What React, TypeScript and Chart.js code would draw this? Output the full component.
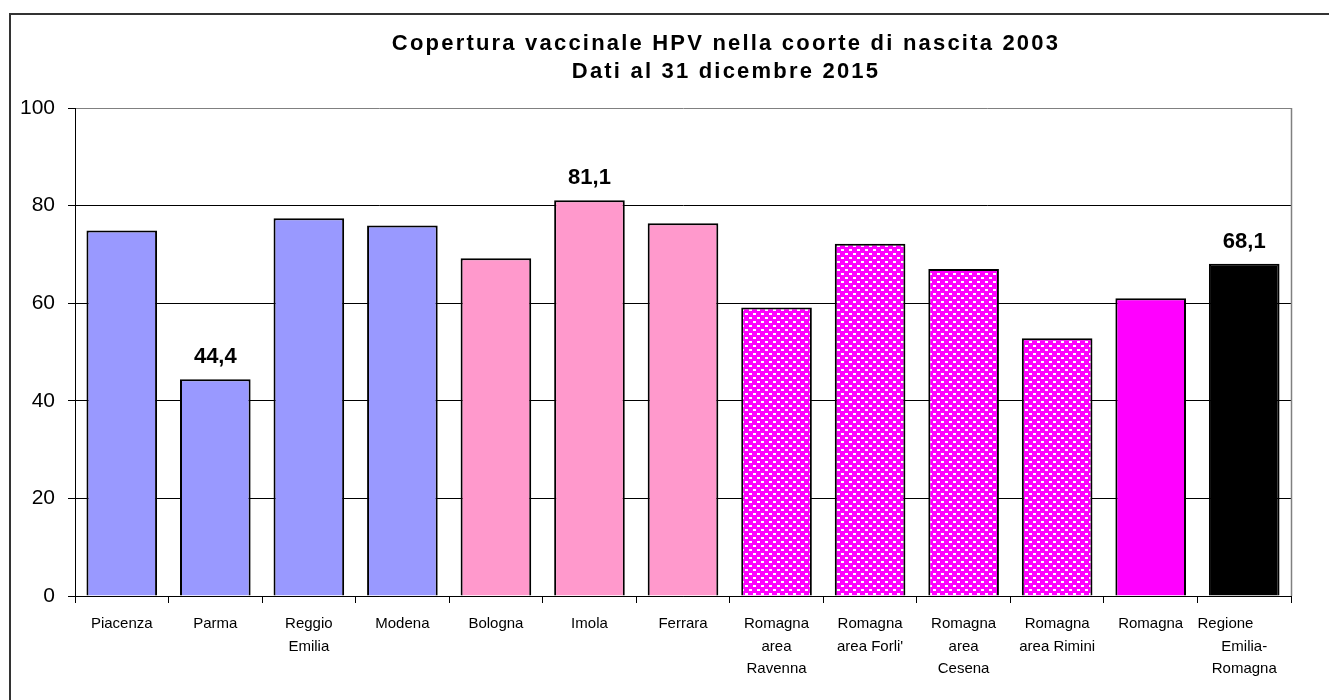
import React, { useEffect, useRef } from "react";
import { Chart, registerables } from "chart.js";

Chart.register(...registerables);

const titleLines = ["Copertura vaccinale HPV nella coorte di nascita 2003", "Dati al 31 dicembre 2015"];
const categories: (string | string[])[] = [
  "Piacenza",
  "Parma",
  ["Reggio", "Emilia"],
  "Modena",
  "Bologna",
  "Imola",
  "Ferrara",
  ["Romagna", "area", "Ravenna"],
  ["Romagna", "area Forli'"],
  ["Romagna", "area", "Cesena"],
  ["Romagna", "area Rimini"],
  "Romagna",
  ["Regione         ", "Emilia-", "Romagna"],
];
const coverage = [74.9, 44.4, 77.4, 75.9, 69.2, 81.1, 76.4, 59.1, 72.2, 67.0, 52.8, 61.0, 68.1];
const barGroups = ["blue", "blue", "blue", "blue", "pink", "pink", "pink", "pattern", "pattern", "pattern", "pattern", "magenta", "black"];
const labelledBars = [1, 5, 12];
const yMin = 0;
const yMax = 100;
const yStep = 20;

const FONT = "'Liberation Sans', Arial, Helvetica, sans-serif";

function makePattern(): CanvasPattern | string {
  const c = document.createElement("canvas");
  c.width = 8;
  c.height = 8;
  const g = c.getContext("2d");
  if (!g) return "#FF00FF";
  g.fillStyle = "#FF00FF";
  g.fillRect(0, 0, 8, 8);
  g.fillStyle = "#FFFFFF";
  g.fillRect(1, 1, 3, 2);
  g.fillRect(5, 5, 3, 2);
  const p = g.createPattern(c, "repeat");
  return p || "#FF00FF";
}

export default function App() {
  const ref = useRef<HTMLCanvasElement | null>(null);

  useEffect(() => {
    const canvas = ref.current;
    if (!canvas) return;
    const pattern = makePattern();
    const colorFor = (g: string) =>
      g === "blue" ? "#9999FF" : g === "pink" ? "#FF99CC" : g === "pattern" ? pattern : g === "magenta" ? "#FF00FF" : "#000000";

    const framePlugin = {
      id: "frame",
      beforeDraw(chart: any) {
        const ctx = chart.ctx;
        ctx.save();
        ctx.fillStyle = "#ffffff";
        ctx.fillRect(0, 0, chart.width, chart.height);
        ctx.strokeStyle = "#333333";
        ctx.lineWidth = 2;
        ctx.strokeRect(10, 14, 1500, 800);
        ctx.restore();
      },
      afterDraw(chart: any) {
        const ctx = chart.ctx;
        const a = chart.chartArea;
        ctx.save();
        ctx.strokeStyle = "#808080";
        ctx.lineWidth = 1.5;
        ctx.beginPath();
        ctx.moveTo(Math.round(a.right) + 0.5, a.top);
        ctx.lineTo(Math.round(a.right) + 0.5, a.bottom);
        ctx.stroke();
        // title
        ctx.fillStyle = "#000";
        ctx.font = `bold 22px ${FONT}`;
        ctx.textAlign = "center";
        ctx.textBaseline = "middle";
        try {
          (ctx as any).letterSpacing = "2.2px";
        } catch (e) {}
        ctx.fillText(titleLines[0], 726, 44);
        ctx.fillText(titleLines[1], 726, 72);
        try {
          (ctx as any).letterSpacing = "0px";
        } catch (e) {}
        // data labels
        const meta = chart.getDatasetMeta(0);
        ctx.font = `bold 22px ${FONT}`;
        ctx.textBaseline = "alphabetic";
        labelledBars.forEach((i) => {
          const el = meta.data[i];
          const txt = coverage[i].toFixed(1).replace(".", ",");
          ctx.fillText(txt, el.x, el.y - 16);
        });
        ctx.restore();
      },
    };

    const chart = new Chart(canvas, {
      type: "bar",
      data: {
        labels: categories,
        datasets: [
          {
            data: coverage,
            backgroundColor: barGroups.map(colorFor) as any,
            borderColor: "#000000",
            borderWidth: 2,
            barPercentage: 0.755,
            categoryPercentage: 1,
          },
        ],
      },
      options: {
        responsive: false,
        devicePixelRatio: 1,
        animation: false,
        events: [],
        layout: { padding: { left: 0, right: 38, top: 108, bottom: 0 } },
        plugins: {
          legend: { display: false },
          title: { display: false },
          tooltip: { enabled: false },
        },
        scales: {
          x: {
            afterFit(axis: any) {
              axis.height = 104;
            },
            grid: {
              display: true,
              drawOnChartArea: false,
              drawTicks: true,
              tickLength: 7,
              color: "#000000",
              offset: true,
            },
            border: { display: true, color: "#000000", width: 1 },
            ticks: {
              color: "#000000",
              padding: 10,
              maxRotation: 0,
              autoSkip: false,
              font: { family: FONT, size: 15, lineHeight: 1.5 },
            },
          },
          y: {
            min: yMin,
            max: yMax,
            afterFit(axis: any) {
              axis.width = 75;
            },
            grid: {
              color: (c: any) => (c.tick && c.tick.value === yMax ? "#808080" : "#000000"),
              tickColor: "#000000",
              tickLength: 7,
              lineWidth: 1,
            },
            border: { display: true, color: "#000000", width: 1 },
            ticks: {
              stepSize: yStep,
              color: "#000000",
              padding: 13,
              font: { family: FONT, size: 21 },
            },
          },
        },
      },
      plugins: [framePlugin],
    });
    return () => chart.destroy();
  }, []);

  return (
    <div style={{ position: "fixed", left: 0, top: 0, width: 1329, height: 700, background: "#fff" }}>
      <canvas ref={ref} width={1329} height={700} style={{ display: "block", width: 1329, height: 700 }} />
    </div>
  );
}
